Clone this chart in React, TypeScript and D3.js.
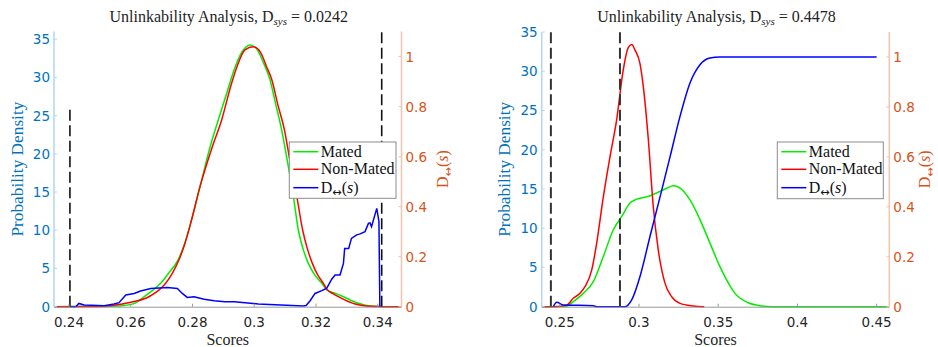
import React from 'react';
import * as d3 from 'd3';

type P = [number, number];

// ---------- Left panel data ----------
const leftMated: P[] = [
  [0.2352, 0], [0.245, 0.01], [0.252, 0.04], [0.257, 0.12], [0.261, 0.4], [0.2643, 1.3], [0.267, 2.1],
  [0.2697, 3.06], [0.2725, 4.5], [0.2753, 6.1], [0.2775, 8.3], [0.2794, 10.9], [0.2825, 15.8],
  [0.2857, 20.9], [0.2884, 24.5], [0.291, 27.8], [0.2935, 31.0], [0.296, 33.3], [0.2986, 34.25],
  [0.301, 33.6], [0.303, 31.9], [0.3051, 29.7], [0.3069, 26.6], [0.3089, 23.1], [0.3108, 18.9],
  [0.3127, 14.4], [0.3143, 10.0], [0.3158, 7.6], [0.3175, 5.7], [0.3197, 4.1], [0.3219, 3.06],
  [0.3235, 2.2], [0.326, 1.8], [0.3289, 1.3], [0.3337, 0.44], [0.3381, 0.06], [0.342, 0], [0.3477, 0],
];
const leftNonMated: P[] = [
  [0.2352, 0], [0.245, 0.02], [0.252, 0.1], [0.2578, 0.4], [0.2615, 0.7], [0.2659, 1.3], [0.2713, 3.06],
  [0.2735, 4.4], [0.2756, 6.1], [0.2775, 8.2], [0.2794, 10.9], [0.2825, 15.8], [0.2864, 20.9],
  [0.2895, 24.5], [0.2925, 29.0], [0.2945, 31.5], [0.297, 33.6], [0.2997, 34.0], [0.302, 33.3],
  [0.304, 31.4], [0.3057, 29.7], [0.3076, 26.5], [0.3098, 23.1], [0.3117, 18.8], [0.3138, 14.4],
  [0.3157, 10.0], [0.3172, 7.6], [0.3188, 5.7], [0.3205, 4.2], [0.3224, 3.06], [0.3235, 2.3],
  [0.3255, 1.7], [0.3278, 1.2], [0.3327, 0.35], [0.338, 0.05], [0.342, 0], [0.3477, 0],
];
const leftD: P[] = [
  [0.2403, 0], [0.2422, 0], [0.2432, 0.013], [0.2449, 0.007], [0.2514, 0.004], [0.2546, 0.011],
  [0.2562, 0.016], [0.2584, 0.047], [0.2611, 0.053], [0.2632, 0.063], [0.2665, 0.073], [0.2719, 0.077],
  [0.2751, 0.073], [0.2767, 0.053], [0.2783, 0.037], [0.2805, 0.04], [0.2838, 0.03], [0.287, 0.024],
  [0.2905, 0.02], [0.2935, 0.02], [0.3013, 0.011], [0.3159, 0.003], [0.3168, 0.005], [0.3181, 0.024],
  [0.3197, 0.053], [0.3219, 0.064], [0.3235, 0.074], [0.3251, 0.11], [0.3262, 0.127], [0.3278, 0.127],
  [0.3289, 0.173], [0.3293, 0.233], [0.3306, 0.233], [0.3315, 0.273], [0.3332, 0.287], [0.3343, 0.291],
  [0.3359, 0.3], [0.337, 0.333], [0.3375, 0.335], [0.338, 0.32], [0.3397, 0.393], [0.3404, 0.34],
  [0.3407, 0],
];
const leftThresholds = [0.2403, 0.3413];
const leftThresholdTops = [26, 36];
const leftXTicks = [0.24, 0.26, 0.28, 0.3, 0.32, 0.34];
const leftYTicks = [0, 5, 10, 15, 20, 25, 30, 35];

// ---------- Right panel data ----------
const rightMated: P[] = [
  [0.2386, 0], [0.2459, 0], [0.2544, 0.05], [0.2585, 0.64], [0.2648, 1.7], [0.2712, 3.2], [0.2775, 6.4],
  [0.2838, 9.8], [0.2891, 11.5], [0.2943, 13.2], [0.2985, 13.7], [0.3049, 14.0], [0.3112, 14.5],
  [0.3175, 15.1], [0.3216, 15.4], [0.3259, 15.1], [0.3322, 13.6], [0.3385, 11.1], [0.3448, 8.1],
  [0.3511, 5.1], [0.3543, 3.8], [0.3606, 1.7], [0.369, 0.5], [0.3774, 0.1], [0.3838, 0], [0.458, 0],
];
const rightNonMated: P[] = [
  [0.2386, 0], [0.2459, 0], [0.2544, 0.2], [0.2585, 1.07], [0.2628, 1.7], [0.2659, 2.55], [0.2702, 4.7],
  [0.2733, 8.1], [0.2775, 14.0], [0.2817, 19.1], [0.2859, 23.8], [0.2901, 30.2], [0.2932, 33.0],
  [0.2954, 33.4], [0.2975, 32.7], [0.3006, 31.0], [0.3027, 28.1], [0.3059, 21.3], [0.309, 12.8],
  [0.3122, 7.2], [0.3164, 3.0], [0.3206, 1.28], [0.3259, 0.43], [0.3343, 0.1], [0.3412, 0],
];
const rightD: P[] = [
  [0.2459, 0], [0.2481, 0.018], [0.2522, 0.007], [0.2712, 0.004], [0.2733, 0], [0.2912, 0],
  [0.2954, 0.027], [0.3006, 0.12], [0.3069, 0.28], [0.3133, 0.44], [0.3196, 0.6], [0.3259, 0.762],
  [0.3322, 0.896], [0.3385, 0.969], [0.3448, 0.996], [0.3511, 1.0], [0.45, 1.0],
];
const rightThresholds = [0.2444, 0.288];
const rightThresholdTops = [35, 35];
const rightXTicks = [0.25, 0.3, 0.35, 0.4, 0.45];
const rightYTicks = [0, 5, 10, 15, 20, 25, 30, 35];

const dTicks = [0, 0.2, 0.4, 0.6, 0.8, 1];
const legendLabels = ['Mated', 'Non-Mated', 'D'];
const titleValues = ['0.0242', '0.4478'];

const BLUE = '#0072BD';
const ORANGE = '#D95319';
const SERIF = 'Liberation Serif, DejaVu Serif, serif';
const SANS = 'DejaVu Sans, sans-serif';

type PanelProps = {
  x0: number; x1: number; yTop: number; yBot: number;
  xDomain: [number, number]; yMax: number;
  mated: P[]; nonMated: P[]; dcurve: P[]; dLinear: boolean;
  thresholds: number[]; thresholdTops: number[];
  xTicks: number[]; yTicks: number[];
  title: string; legend: { x: number; y: number; w: number; h: number };
  yLabelX: number; dLabelX: number; dashColor: string; dashWidth: number;
};

function DLabel({ size }: { size: number }) {
  return (
    <>
      <tspan>D</tspan>
      <tspan fontSize={size * 0.7} dy={size * 0.22} fontFamily="DejaVu Sans, sans-serif">↔</tspan>
      <tspan dy={-size * 0.22}>(</tspan>
      <tspan fontStyle="italic">s</tspan>
      <tspan>)</tspan>
    </>
  );
}

function Panel(p: PanelProps) {
  const x = d3.scaleLinear().domain(p.xDomain).range([p.x0, p.x1]);
  const y = d3.scaleLinear().domain([0, p.yMax]).range([p.yBot, p.yTop]);
  const yd = d3.scaleLinear().domain([0, 1.1]).range([p.yBot, p.yTop]);
  const smooth = d3.line<P>().x(d => x(d[0])).y(d => y(d[1])).curve(d3.curveMonotoneX);
  const dLine = d3.line<P>().x(d => x(d[0])).y(d => yd(d[1])).curve(p.dLinear ? d3.curveLinear : d3.curveMonotoneX);
  const cx = (p.x0 + p.x1) / 2;
  const cy = (p.yTop + p.yBot) / 2;
  const colors = ['#00ee00', '#ff0000', '#0000ff'];
  const L = p.legend;
  const rowY = [L.y + 9.7, L.y + 27.3, L.y + 45.7];
  return (
    <g>
      <defs>
        <clipPath id={`clip${Math.round(p.x0)}`}>
          <rect x={p.x0} y={p.yTop - 2} width={p.x1 - p.x0} height={p.yBot - p.yTop + 4} />
        </clipPath>
      </defs>
      {/* title */}
      <text x={cx + 1} y={21.5} textAnchor="middle" fontFamily={SERIF} fontSize={16} fill="#222">
        <tspan>Unlinkability Analysis, D</tspan>
        <tspan fontSize={11} fontStyle="italic" dy={3}>sys</tspan>
        <tspan dy={-3}>{' = ' + p.title}</tspan>
      </text>
      {/* curves */}
      <g clipPath={`url(#clip${Math.round(p.x0)})`}>
        <path d={smooth(p.mated) || ''} fill="none" stroke="#00ee00" strokeWidth={1.5} />
        <path d={smooth(p.nonMated) || ''} fill="none" stroke="#ff0000" strokeWidth={1.5} />
        <path d={dLine(p.dcurve) || ''} fill="none" stroke="#0000ff" strokeWidth={1.5} />
        {p.thresholds.map((t, i) => (
          <line key={i} x1={x(t)} x2={x(t)} y1={p.yBot} y2={y(p.thresholdTops[i])}
            stroke={p.dashColor} strokeWidth={p.dashWidth} strokeDasharray="11,4.5" />
        ))}
      </g>
      {/* axes lines */}
      <line x1={p.x0} x2={p.x1} y1={p.yBot + 0.5} y2={p.yBot + 0.5} stroke="#999" strokeWidth={1} />
      <line x1={p.x0} x2={p.x0} y1={p.yTop} y2={p.yBot} stroke="#b5d5ee" strokeWidth={1.5} />
      <line x1={p.x1} x2={p.x1} y1={p.yTop} y2={p.yBot} stroke="#f2c3ae" strokeWidth={1.5} />
      {/* x ticks */}
      {p.xTicks.map(t => (
        <g key={t}>
          <line x1={x(t)} x2={x(t)} y1={p.yBot} y2={p.yBot - 3} stroke="#999" />
          <text x={x(t)} y={326.5} textAnchor="middle" fontFamily={SANS} fontSize={13.5} fill="#262626">{String(t)}</text>
        </g>
      ))}
      {/* left y ticks */}
      {p.yTicks.map(t => (
        <g key={t}>
          <line x1={p.x0} x2={p.x0 + 3} y1={y(t)} y2={y(t)} stroke="#b5d5ee" />
          <text x={p.x0 - 4} y={y(t) + 5} textAnchor="end" fontFamily={SANS} fontSize={13.5} fill={BLUE}>{String(t)}</text>
        </g>
      ))}
      {/* right y ticks */}
      {dTicks.map(t => (
        <g key={t}>
          <line x1={p.x1} x2={p.x1 - 3} y1={yd(t)} y2={yd(t)} stroke="#f2c3ae" />
          <text x={p.x1 + 4} y={yd(t) + 5} textAnchor="start" fontFamily={SANS} fontSize={13.5} fill={ORANGE}>{String(t)}</text>
        </g>
      ))}
      {/* axis labels */}
      <text x={cx} y={345} textAnchor="middle" fontFamily={SERIF} fontSize={16} fill="#262626">Scores</text>
      <text transform={`translate(${p.yLabelX},${cy}) rotate(-90)`} textAnchor="middle" fontFamily={SERIF} fontSize={17.3} fill={BLUE}>Probability Density</text>
      <text transform={`translate(${p.dLabelX},${cy}) rotate(-90)`} textAnchor="middle" fontFamily={SERIF} fontSize={16} fill={ORANGE}>
        <DLabel size={16} />
      </text>
      {/* legend */}
      <rect x={L.x} y={L.y} width={L.w} height={L.h} fill="#fff" stroke="#8c8c8c" strokeWidth={1} />
      {legendLabels.map((lab, i) => (
        <g key={lab}>
          <line x1={L.x + 4} x2={L.x + 29} y1={rowY[i]} y2={rowY[i]} stroke={colors[i]} strokeWidth={1.5} />
          <text x={L.x + 31.5} y={rowY[i] + 5} fontFamily={SERIF} fontSize={16} fill="#111">
            {i === 2 ? <DLabel size={16} /> : lab}
          </text>
        </g>
      ))}
    </g>
  );
}

export default function App() {
  return (
    <svg width={938} height={347} style={{ position: 'absolute', left: 0, top: 0, background: '#fff' }}>
      <rect width={938} height={347} fill="#fff" />
      <Panel x0={54} x1={401.5} yTop={31.5} yBot={306.7} xDomain={[0.23514, 0.34771]} yMax={36}
        mated={leftMated} nonMated={leftNonMated} dcurve={leftD} dLinear={true}
        thresholds={leftThresholds} thresholdTops={leftThresholdTops}
        xTicks={leftXTicks} yTicks={leftYTicks} title={titleValues[0]}
        legend={{ x: 289.3, y: 142, w: 106.7, h: 56.3 }} yLabelX={23} dLabelX={448}
        dashColor="#111" dashWidth={1.6} />
      <Panel x0={541.7} x1={889.3} yTop={32} yBot={306.7} xDomain={[0.2386, 0.458]} yMax={35}
        mated={rightMated} nonMated={rightNonMated} dcurve={rightD} dLinear={false}
        thresholds={rightThresholds} thresholdTops={rightThresholdTops}
        xTicks={rightXTicks} yTicks={rightYTicks} title={titleValues[1]}
        legend={{ x: 777.3, y: 142, w: 106, h: 56.7 }} yLabelX={510} dLabelX={930}
        dashColor="#333" dashWidth={2} />
    </svg>
  );
}
